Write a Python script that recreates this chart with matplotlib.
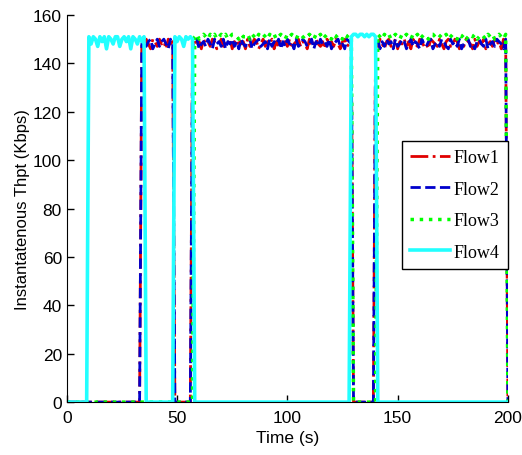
import matplotlib
matplotlib.use('Agg')
import matplotlib.pyplot as plt
import numpy as np

# time samples (s)
t = np.arange(0, 201)

# Flow1 on-periods (Kbps)
f1_a = [149, 147, 150, 148, 146, 150, 149, 147, 150, 148, 149, 146, 150, 148, 149]
f1_b = [148, 150, 147, 149, 146, 150, 148, 149, 147, 150,
        149, 146, 148, 150, 147, 149, 148, 150, 146, 149,
        147, 150, 148, 149, 146, 150, 147, 148, 150, 149,
        146, 148, 150, 147, 149, 148, 150, 146, 149, 147,
        150, 148, 149, 147, 150, 146, 148, 149, 150, 147,
        149, 148, 146, 150, 147, 149, 150, 148, 147, 149,
        146, 150, 148, 149, 147, 150, 148, 146, 149, 150,
        147, 148, 149]
f1_c = [149, 147, 150, 148, 146, 149, 150, 147, 148, 150,
        146, 149, 148, 150, 147, 149, 146, 150, 148, 147,
        150, 149, 147, 148, 146, 150, 149, 148, 147, 150,
        148, 146, 149, 150, 147, 148, 150, 149, 146, 148,
        147, 150, 149, 148, 146, 150, 147, 149, 148, 150,
        146, 148, 149, 147, 150, 148, 149, 146, 150, 148]

# Flow2 on-periods
f2_a = [148, 150, 147, 149, 150, 146, 148, 150, 147, 149, 150, 148, 146, 150, 148]
f2_b = [147, 149, 150, 146, 148, 149, 147, 150, 148, 146,
        150, 148, 149, 147, 150, 146, 149, 148, 150, 147,
        149, 146, 150, 148, 147, 149, 150, 146, 148, 149,
        150, 147, 148, 149, 146, 150, 147, 149, 148, 150,
        146, 149, 147, 150, 148, 149, 146, 150, 147, 148,
        150, 149, 147, 148, 150, 146, 149, 147, 150, 148,
        149, 147, 150, 146, 148, 149, 150, 147, 148, 146,
        150, 149, 148]
f2_c = [148, 150, 146, 149, 147, 150, 148, 149, 146, 150,
        147, 148, 150, 149, 146, 148, 150, 147, 149, 148,
        146, 150, 148, 147, 149, 150, 146, 148, 149, 147,
        150, 149, 147, 146, 150, 148, 149, 147, 150, 146,
        148, 149, 150, 147, 148, 146, 149, 150, 148, 147,
        150, 146, 148, 149, 147, 150, 149, 148, 146, 150]

# Flow3 on-periods
f3_a = [151, 152, 150, 151, 152, 151, 150, 152, 151, 152,
        150, 151, 152, 151, 152, 150, 151, 152, 152, 151,
        150, 152, 151, 151, 152, 150, 152, 151, 150, 152,
        151, 152, 151, 150, 152, 151, 152, 150, 151, 152,
        151, 150, 152, 151, 152, 151, 150, 152, 152, 151,
        150, 151, 152, 151, 150, 152, 151, 152, 150, 151,
        152, 151, 150, 152, 151, 152, 151, 150, 152, 151,
        152, 151]
f3_b = [152, 151, 150, 152, 151, 152, 150, 151, 152, 151,
        150, 152, 151, 152, 151, 150, 152, 151, 152, 150,
        151, 152, 151, 150, 152, 152, 151, 150, 151, 152,
        151, 152, 150, 151, 152, 151, 150, 152, 151, 152,
        150, 151, 152, 151, 152, 150, 151, 152, 151, 150,
        152, 151, 152, 150, 151, 152, 151, 150, 152]

# Flow4 on-periods
f4_a = [151, 148, 151, 150, 147, 151, 149, 151, 146, 151,
        150, 148, 151, 151, 147, 150, 151, 149, 151, 146,
        151, 150, 148, 151, 149, 151]
f4_b = [151, 149, 151, 150, 147, 151, 150, 151, 150]
f4_c = [151, 152, 152, 151, 152, 152, 151, 152, 151, 152, 152, 151]

flow1 = [0] * 34 + f1_a + [0] * 8 + f1_b + [0] * 10 + f1_c + [0]
flow2 = [0] * 34 + f2_a + [0] * 8 + f2_b + [0] * 10 + f2_c + [0]
flow3 = [0] * 58 + f3_a + [0] * 11 + f3_b + [0]
flow4 = [0] * 10 + f4_a + [0] * 13 + f4_b + [0] * 71 + f4_c + [0] * 60

sans = ['Liberation Sans', 'DejaVu Sans']

fig = plt.figure(figsize=(5.22, 4.56), dpi=100)
ax = fig.add_axes([0.128, 0.116, 0.845, 0.849])

ax.plot(t, flow1, color='#e00000', linestyle='-.', linewidth=2, label='Flow1')
ax.plot(t, flow2, color='#0000cc', linestyle='--', linewidth=2, label='Flow2')
ax.plot(t, flow3, color='#00ff00', linestyle=':', linewidth=2.5, label='Flow3')
ax.plot(t, flow4, color='#22ffff', linestyle='-', linewidth=2.6, label='Flow4')

ax.set_xlim(0, 200)
ax.set_ylim(0, 160)
ax.set_xticks([0, 50, 100, 150, 200])
ax.set_yticks(range(0, 161, 20))
ax.spines['top'].set_visible(False)
ax.spines['right'].set_visible(False)
ax.tick_params(direction='in', length=5, width=1, top=False, right=False)
ax.tick_params(axis='x', pad=6)
for lab in ax.get_xticklabels() + ax.get_yticklabels():
    lab.set_family(sans)
    lab.set_fontsize(12.5)

ax.set_xlabel('Time (s)', family=sans, fontsize=12.5, labelpad=3)
ax.set_ylabel('Instantatenous Thpt (Kbps)', family=sans, fontsize=12, labelpad=2)

leg = ax.legend(loc='upper left', bbox_to_anchor=(0.76, 0.674), frameon=True,
                fancybox=False, edgecolor='black', framealpha=1,
                prop={'family': 'Liberation Serif', 'size': 13},
                handlelength=2.2, handletextpad=0.2, labelspacing=0.8,
                borderpad=0.45, borderaxespad=0)
leg.get_frame().set_linewidth(1)

plt.savefig('out.png', dpi=100)
